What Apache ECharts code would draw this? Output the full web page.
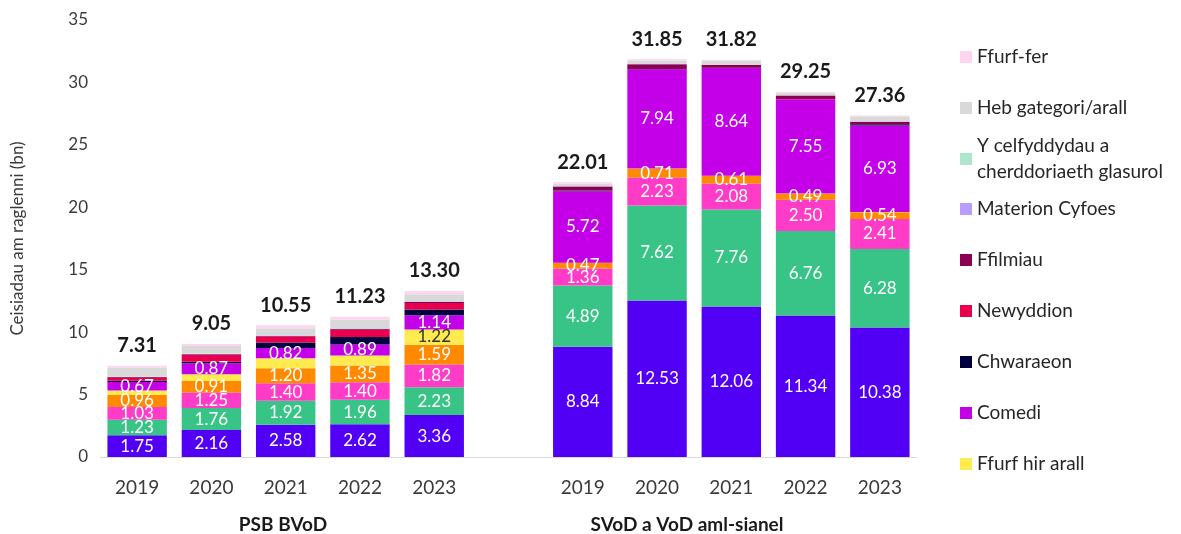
<!DOCTYPE html>
<html>
<head>
<meta charset="utf-8">
<title>Ceisiadau am raglenni</title>
<script src="https://cdn.jsdelivr.net/npm/echarts@6/dist/echarts.min.js"></script>
<style>
  html, body { margin: 0; padding: 0; background: #fff; }
  #chart { width: 1181px; height: 534px; }
</style>
</head>
<body>
<div id="chart"></div>
<script>
// Years for each group (PSB BVoD, then SVoD a VoD aml-sianel)
const years = ["2019", "2020", "2021", "2022", "2023"];
const groupNames = ["PSB BVoD", "SVoD a VoD aml-sianel"];

// Series values: first five = PSB BVoD, last five = SVoD
const drama = [1.75, 2.16, 2.58, 2.62, 3.36, 8.84, 12.53, 12.06, 11.34, 10.38];
const adloniant = [1.23, 1.76, 1.92, 1.96, 2.23, 4.89, 7.62, 7.76, 6.76, 6.28];
const ffeithiol = [1.03, 1.25, 1.40, 1.40, 1.82, 1.36, 2.23, 2.08, 2.50, 2.41];
const plant = [0.96, 0.91, 1.20, 1.35, 1.59, 0.47, 0.71, 0.61, 0.49, 0.54];
const ffurfHirArall = [0.36, 0.55, 0.80, 0.80, 1.22, 0.00, 0.02, 0.01, 0.01, 0.02];
const comedi = [0.67, 0.87, 0.82, 0.89, 1.14, 5.72, 7.94, 8.64, 7.55, 6.93];
const chwaraeon = [0.10, 0.12, 0.45, 0.60, 0.45, 0.06, 0.02, 0.01, 0.01, 0.09];
const newyddion = [0.25, 0.55, 0.48, 0.58, 0.53, 0.02, 0.01, 0.01, 0.01, 0.01];
const ffilmiau = [0.05, 0.05, 0.05, 0.05, 0.08, 0.30, 0.38, 0.22, 0.28, 0.20];
const materionCyfoes = [0.02, 0.03, 0.03, 0.04, 0.03, 0.02, 0.01, 0.01, 0.01, 0.01];
const celfyddydau = [0.03, 0.03, 0.02, 0.05, 0.05, 0.02, 0.01, 0.01, 0.01, 0.01];
const hebGategori = [0.72, 0.62, 0.56, 0.67, 0.53, 0.20, 0.25, 0.33, 0.22, 0.42];
const ffurfFer = [0.14, 0.15, 0.24, 0.22, 0.27, 0.11, 0.12, 0.07, 0.06, 0.06];

// Totals printed above each bar
const totals = [7.31, 9.05, 10.55, 11.23, 13.30, 22.01, 31.85, 31.82, 29.25, 27.36];

const yTicks = { min: 0, max: 35, interval: 5 };

// Empty slot between the two groups
const categories = [...years, "", ...years];
const withGap = (arr) => [...arr.slice(0, 5), null, ...arr.slice(5)];

const FONT = "Lato, 'Open Sans', sans-serif";

// Stack order bottom -> top
const stackDefs = [
  { name: "Drama", data: drama, color: "#5200F5", label: 0 },
  { name: "Adloniant", data: adloniant, color: "#38C486", label: 0 },
  { name: "Ffeithiol", data: ffeithiol, color: "#FF3CC8", label: 0 },
  { name: "Plant", data: plant, color: "#FF8A00", label: 0 },
  { name: "Ffurf hir arall", data: ffurfHirArall, color: "#FFEB50", label: 1, labelColor: "#333333" },
  { name: "Comedi", data: comedi, color: "#C400E8", label: 0 },
  { name: "Chwaraeon", data: chwaraeon, color: "#00003F" },
  { name: "Newyddion", data: newyddion, color: "#E8004F" },
  { name: "Ffilmiau", data: ffilmiau, color: "#8B0050" },
  { name: "Materion Cyfoes", data: materionCyfoes, color: "#B89CFF" },
  { name: "Y celfyddydau a\ncherddoriaeth glasurol", data: celfyddydau, color: "#AEE6CC" },
  { name: "Heb gategori/arall", data: hebGategori, color: "#D9D9D9" },
  { name: "Ffurf-fer", data: ffurfFer, color: "#FFD5F0", total: true },
];

const totalsData = withGap(totals);

const series = stackDefs.map((d) => {
  const s = {
    name: d.name,
    type: "bar",
    stack: "all",
    barCategoryGap: "20%",
    itemStyle: { color: d.color },
    data: withGap(d.data),
    emphasis: { disabled: true },
  };
  if (d.label !== undefined) {
    // value label inside segment, only if above the threshold
    s.label = {
      show: true,
      position: "inside",
      color: d.labelColor || "#ffffff",
      fontFamily: FONT,
      fontSize: 17,
      formatter: (p) => (p.value > d.label ? p.value.toFixed(2) : ""),
    };
  }
  if (d.total) {
    s.label = {
      show: true,
      position: "top",
      distance: 10,
      color: "#1a1a1a",
      fontFamily: FONT,
      fontSize: 20,
      fontWeight: "bold",
      formatter: (p) => (totalsData[p.dataIndex] == null ? "" : totalsData[p.dataIndex].toFixed(2)),
    };
  }
  return s;
});

// Legend shows only the top nine categories, top of stack first
const legendNames = stackDefs.slice(4).map((d) => d.name).reverse();
const legendCenters = [55, 106, 157, 207, 258, 309, 360, 411, 462];
const legends = legendNames.map((name, i) => {
  const twoLine = name.indexOf("\n") >= 0;
  return {
    data: [name],
    orient: "vertical",
    left: 960,
    top: twoLine ? legendCenters[i] - 37 : legendCenters[i] - 9,
    padding: 0,
    icon: "rect",
    itemWidth: 12,
    itemHeight: 12,
    selectedMode: false,
    textStyle: {
      fontFamily: FONT,
      fontSize: 19,
      color: "#262626",
      lineHeight: twoLine ? 26 : 22,
      padding: twoLine ? [26, 0, 0, 0] : 0,
    },
  };
});

const chart = echarts.init(document.getElementById("chart"));
chart.setOption({
  animation: false,
  legend: legends,
  grid: { left: 100, right: 264, top: 20, bottom: 77 },
  xAxis: {
    type: "category",
    data: categories,
    axisLine: { lineStyle: { color: "#d9d9d9", width: 1 } },
    axisTick: { show: false },
    axisLabel: { margin: 21, fontFamily: FONT, fontSize: 19, color: "#3a3a3a", interval: 0 },
  },
  yAxis: {
    type: "value",
    min: yTicks.min,
    max: yTicks.max,
    interval: yTicks.interval,
    name: "Ceisiadau am raglenni (bn)",
    nameLocation: "middle",
    nameGap: 74,
    nameTextStyle: { fontFamily: FONT, fontSize: 17, color: "#3a3a3a" },
    axisLine: { show: false },
    axisTick: { show: false },
    splitLine: { show: false },
    axisLabel: { margin: 12, fontFamily: FONT, fontSize: 17, color: "#3a3a3a" },
  },
  graphic: [
    {
      type: "text",
      x: 283,
      y: 525,
      style: { text: groupNames[0], font: "bold 19px " + FONT, fill: "#1a1a1a", textAlign: "center", textVerticalAlign: "middle" },
    },
    {
      type: "text",
      x: 687,
      y: 525,
      style: { text: groupNames[1], font: "bold 19px " + FONT, fill: "#1a1a1a", textAlign: "center", textVerticalAlign: "middle" },
    },
  ],
  series: series,
});
</script>
</body>
</html>
